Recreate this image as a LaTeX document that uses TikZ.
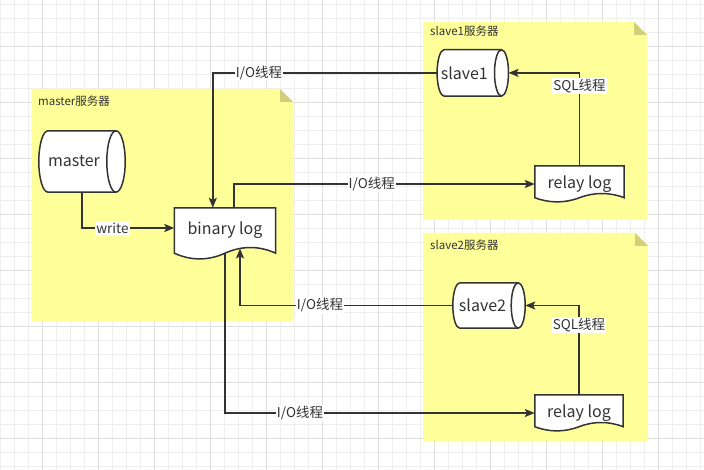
\documentclass[tikz,border=0pt]{standalone}
\usepackage{fontspec}
\setmainfont{Noto Sans CJK SC}
\usetikzlibrary{arrows.meta,calc}
\definecolor{notefill}{RGB}{255,255,153}
\definecolor{notefold}{RGB}{209,207,122}
\definecolor{linec}{RGB}{51,51,51}
\definecolor{gridminor}{RGB}{238,238,238}
\definecolor{gridmajor}{RGB}{222,222,222}
\pgfdeclarelayer{gridlayer}
\pgfdeclarelayer{notelayer}
\pgfdeclarelayer{shapelayer}
\pgfsetlayers{gridlayer,notelayer,shapelayer,main}
\tikzset{
  dbnode/.style={inner sep=0pt, text=linec, font=\fontsize{16}{18}\selectfont},
  docnode/.style={inner sep=0pt, text=linec, font=\fontsize{16}{18}\selectfont},
  docline/.style={draw=linec, line width=1.5pt, fill=white, line join=miter},
  edge/.style={draw=linec, line width=1.5pt, -{Stealth[length=10pt,width=8pt,inset=2pt]}},
  lbl/.style={fill=white, inner sep=1.2pt, text=linec, font=\fontsize{13.5}{15}\selectfont},
  notelbl/.style={inner sep=0pt, text=linec, anchor=west, font=\fontsize{11.5}{13}\selectfont},
}
\newcommand\notebox[4]{%
  \begin{pgfonlayer}{notelayer}
  \fill[notefill] (#1,#2) -- (#3-13,#2) -- (#3,#2+13) -- (#3,#4) -- (#1,#4) -- cycle;
  \fill[notefold] (#3-13,#2) -- (#3-13,#2+13) -- (#3,#2+13) -- cycle;
  \end{pgfonlayer}}
% document shape: node name, side offset (down), wave amplitude
\newcommand\docshape[3]{%
  \begin{pgfonlayer}{shapelayer}
  \path[docline] let \p1=(#1.north west), \p2=(#1.south east) in
    (\x1,\y1) -- (\x2,\y1) -- (\x2,{\y2-(#2pt)})
    .. controls ({\x2-(\x2-\x1)/6},{\y2-(#2pt)+4*(#3pt)/3}) and ({\x2-(\x2-\x1)/3},{\y2-(#2pt)+4*(#3pt)/3}) .. ({\x1+(\x2-\x1)/2},{\y2-(#2pt)})
    .. controls ({\x1+(\x2-\x1)/3},{\y2-(#2pt)-4*(#3pt)/3}) and ({\x1+(\x2-\x1)/6},{\y2-(#2pt)-4*(#3pt)/3}) .. (\x1,{\y2-(#2pt)}) -- cycle;
  \end{pgfonlayer}}
% horizontal cylinder: node name, end x-radius
\newcommand\dbshape[2]{%
  \begin{pgfonlayer}{shapelayer}
  \path[docline] let \p1=(#1.north west), \p2=(#1.south east) in
    ({\x1+(#2pt)},\y1) -- ({\x2-(#2pt)},\y1)
    arc[start angle=90, end angle=-90, x radius=#2pt, y radius={(\y1-\y2)/2}]
    -- ({\x1+(#2pt)},\y2)
    arc[start angle=270, end angle=90, x radius=#2pt, y radius={(\y1-\y2)/2}] -- cycle;
  \draw[draw=linec, line width=1.5pt] let \p1=(#1.north west), \p2=(#1.south east) in
    ({\x2-(#2pt)},\y1) arc[start angle=90, end angle=270, x radius=#2pt, y radius={(\y1-\y2)/2}];
  \end{pgfonlayer}}
\begin{document}
\begin{tikzpicture}[x=1pt,y=-1pt]
\useasboundingbox (0,0) rectangle (704,470);
\begin{pgfonlayer}{gridlayer}
  \fill[white] (0,0) rectangle (704,470);
  \foreach \i in {0,...,50} {\draw[gridminor, line width=0.8pt] (0.3+14*\i,0) -- (0.3+14*\i,470);}
  \foreach \i in {0,...,33} {\draw[gridminor, line width=0.8pt] (0,4.3+14*\i) -- (704,4.3+14*\i);}
  \foreach \i in {0,...,11} {\draw[gridmajor, line width=0.8pt] (42.3+56*\i,0) -- (42.3+56*\i,470);}
  \foreach \i in {0,...,7} {\draw[gridmajor, line width=0.8pt] (0,46.3+56*\i) -- (704,46.3+56*\i);}
\end{pgfonlayer}

% notes
\notebox{32}{89}{293}{321}
\notebox{423}{22}{647}{220}
\notebox{423}{233}{648}{441}
\node[notelbl] (mlabel) at (38,101) {master服务器};
\node[notelbl] (s1label) at (430,31) {slave1服务器};
\node[notelbl] (s2label) at (430,245) {slave2服务器};

% databases
\node[dbnode, minimum width=86pt, minimum height=61pt] (master) at (82,161.5) {master\hspace*{16pt}};
\node[dbnode, minimum width=71pt, minimum height=46pt] (slave1) at (472.8,72.9) {slave1\hspace*{17pt}};
\node[dbnode, minimum width=72pt, minimum height=45pt] (slave2) at (489,305.5) {slave2\hspace*{13pt}};
\dbshape{master}{9.2}
\dbshape{slave1}{7}
\dbshape{slave2}{7}

% documents
\node[docnode, minimum width=101pt, minimum height=45pt] (binlog) at (225,230.5) {binary log};
\node[docnode, minimum width=89pt, minimum height=36pt] (relay1) at (579.5,184) {relay log};
\node[docnode, minimum width=88pt, minimum height=36pt] (relay2) at (579,413) {relay log};
\docshape{binlog}{0}{5.7}
\docshape{relay1}{-4.5}{4.2}
\docshape{relay2}{-4.5}{4.2}

% connectors
\coordinate (bintopin) at ($(binlog.north west)+(38.5,0)$);
\coordinate (bintopout) at ($(binlog.north)+(9,0)$);
\coordinate (binbotin) at ($(binlog.south)+(15,-4.8)$);
\coordinate (binwest) at ($(binlog.west)+(0,-2.5)$);
\draw[edge] (master.south) |- (binwest) node[lbl, pos=0.665] {write};
\draw[edge] (slave1.west) -| (bintopin) node[lbl, pos=0.397] {I/O线程};
\draw[edge] (bintopout) |- (relay1.west) node[lbl, pos=0.729] {I/O线程};
\draw[edge] (slave2.west) -| (binbotin) node[lbl, pos=0.312] {I/O线程};
\draw[edge] (binlog.south) |- (relay2.west) node[lbl, pos=0.621] {I/O线程};
\draw[edge] (relay1.north) |- (slave1.east) node[lbl, pos=0.43] {SQL线程};
\draw[edge] (relay2.north) |- (slave2.east) node[lbl, pos=0.39] {SQL线程};
\end{tikzpicture}
\end{document}
